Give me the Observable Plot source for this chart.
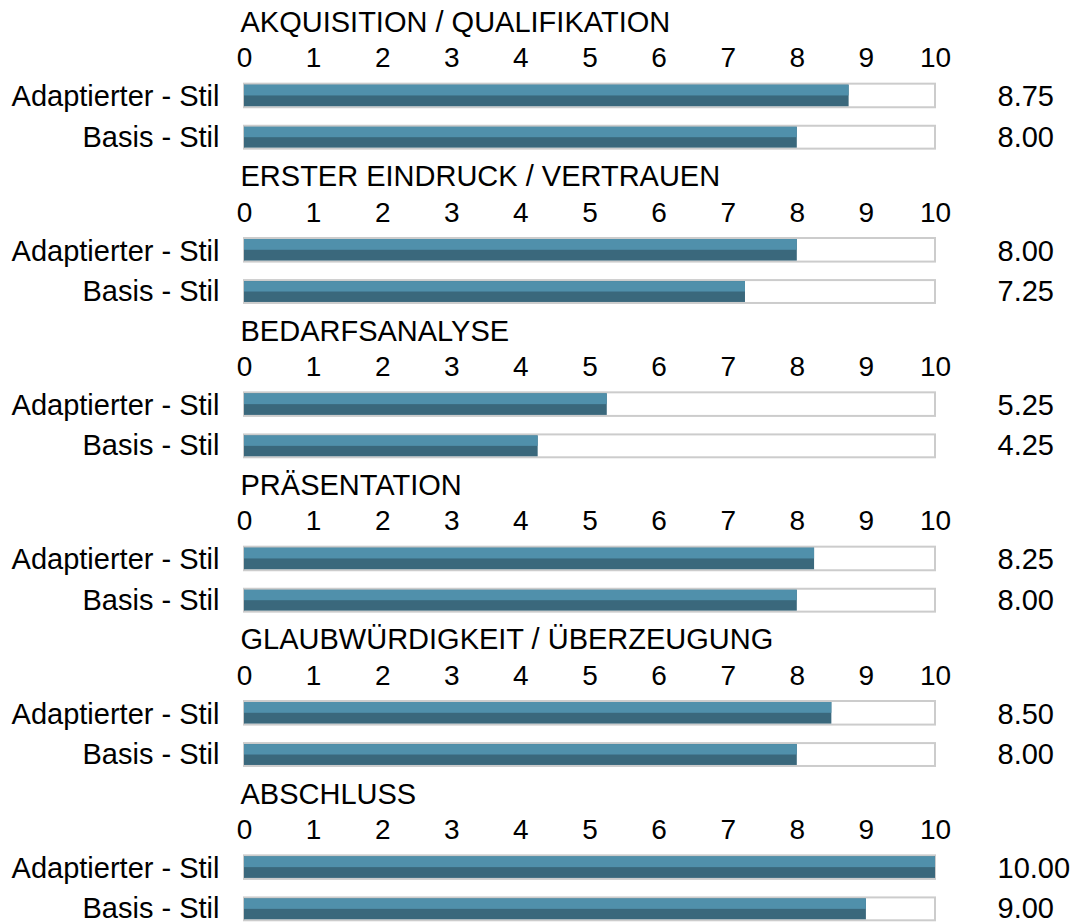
<!DOCTYPE html>
<html>
<head>
<meta charset="utf-8">
<script src="https://cdn.jsdelivr.net/npm/d3@7"></script>
<script src="https://cdn.jsdelivr.net/npm/@observablehq/plot@0.6"></script>
<style>
  html, body { margin: 0; padding: 0; background: #fff; }
  svg { display: block; }
</style>
</head>
<body>
<div id="chart"></div>
<script>
const sections = [
  "AKQUISITION / QUALIFIKATION",
  "ERSTER EINDRUCK / VERTRAUEN",
  "BEDARFSANALYSE",
  "PRÄSENTATION",
  "GLAUBWÜRDIGKEIT / ÜBERZEUGUNG",
  "ABSCHLUSS"
];
const styles = ["Adaptierter - Stil", "Basis - Stil"];
const adaptiertValues = [8.75, 8.00, 5.25, 8.25, 8.50, 10.00];
const basisValues = [8.00, 7.25, 4.25, 8.00, 8.00, 9.00];
const tickValues = [0, 1, 2, 3, 4, 5, 6, 7, 8, 9, 10];
const scaleMax = 10;

const key = (s, r) => s + "|" + r;
const yDomain = sections.flatMap(s => [key(s, "title"), key(s, "ticks"), key(s, styles[0]), key(s, styles[1])]);

const rows = sections.flatMap((s, i) => [
  {section: s, style: styles[0], value: adaptiertValues[i], row: key(s, styles[0])},
  {section: s, style: styles[1], value: basisValues[i], row: key(s, styles[1])}
]);
const adaptRows = rows.filter(d => d.style === styles[0]);
const basisRows = rows.filter(d => d.style === styles[1]);
const titles = sections.map(s => ({section: s, row: key(s, "title")}));
const ticks = sections.flatMap(s => tickValues.map(t => ({t, row: key(s, "ticks")})));

const light = "#5090ab";
const dark = "#3a687c";
const font = "Liberation Sans, Arial, sans-serif";
const H = 926;
const step = H / yDomain.length;

function barMarks(data, insetTop, insetBottom) {
  const inner = step - insetTop - insetBottom - 2;
  return [
    Plot.barX(data, {x1: 0, x2: scaleMax, y: "row", fill: "white", stroke: "#cccccc", strokeWidth: 2, insetTop, insetBottom}),
    Plot.barX(data, {x1: 0, x2: "value", y: "row", fill: dark, insetTop: insetTop + 1, insetBottom: insetBottom + 1}),
    Plot.barX(data, {x1: 0, x2: "value", y: "row", fill: light, insetTop: insetTop + 1, insetBottom: insetBottom + 1 + inner / 2})
  ];
}

const chart = Plot.plot({
  width: 1074,
  height: H,
  marginLeft: 244,
  marginRight: 139,
  marginTop: 0,
  marginBottom: 0,
  style: {fontFamily: font, background: "white"},
  x: {domain: [0, scaleMax], axis: null},
  y: {domain: yDomain, axis: null, padding: 0, round: false},
  marks: [
    ...barMarks(adaptRows, 6.5, 8.5),
    ...barMarks(basisRows, 10, 5.7),
    Plot.text(titles, {frameAnchor: "left", y: "row", text: "section", textAnchor: "start", dx: -4, dy: 3, fontSize: 29, fill: "#000"}),
    Plot.text(ticks, {x: "t", y: "row", text: d => String(d.t), fontSize: 28, fill: "#000", dy: 0}),
    Plot.text(adaptRows, {frameAnchor: "left", y: "row", text: "style", textAnchor: "end", dx: -25, dy: 0, fontSize: 29, fill: "#000"}),
    Plot.text(basisRows, {frameAnchor: "left", y: "row", text: "style", textAnchor: "end", dx: -25, dy: 2, fontSize: 29, fill: "#000"}),
    Plot.text(adaptRows, {frameAnchor: "right", y: "row", text: d => d.value.toFixed(2), textAnchor: "start", dx: 62, dy: 0, fontSize: 29, fill: "#000"}),
    Plot.text(basisRows, {frameAnchor: "right", y: "row", text: d => d.value.toFixed(2), textAnchor: "start", dx: 62, dy: 2, fontSize: 29, fill: "#000"})
  ]
});
document.getElementById("chart").appendChild(chart);
</script>
</body>
</html>
